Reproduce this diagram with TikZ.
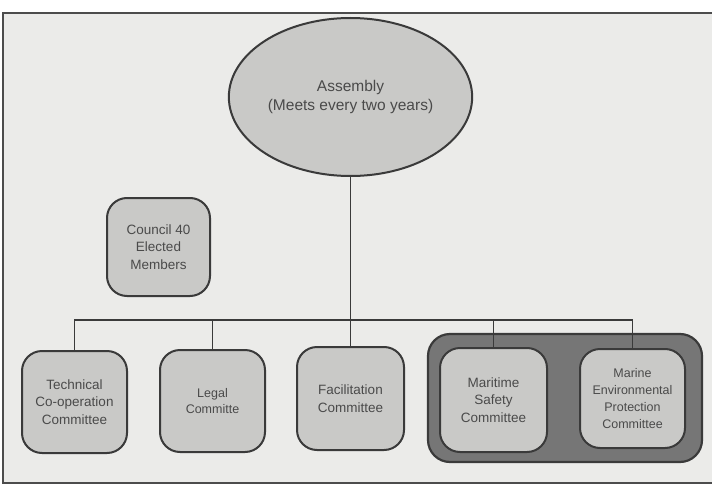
\documentclass[tikz,border=0pt]{standalone}
\usepackage{fontspec}
\setmainfont{Liberation Sans}
\usetikzlibrary{shapes.geometric}
\definecolor{bgc}{HTML}{EBEBE9}
\definecolor{boxc}{HTML}{C9C9C7}
\definecolor{edgec}{HTML}{3A3A3A}
\definecolor{txtc}{HTML}{4A4A4A}
\definecolor{grpc}{HTML}{767676}
\begin{document}
\begin{tikzpicture}[x=1pt,y=-1pt,
  orgbox/.style={draw=edgec, line width=2pt, fill=boxc, rounded corners=20pt,
    text=txtc, align=center, inner sep=2pt,
    font=\fontsize{13.5}{17.5}\selectfont},
  grpbox/.style={draw=edgec, line width=2.2pt, fill=grpc, rounded corners=22pt},
  link/.style={draw=edgec, line width=1.6pt},
  framel/.style={draw=black!70, line width=1.2pt}]
\useasboundingbox (0,0) rectangle (712,487);
\fill[white] (0,0) rectangle (712,487);
\fill[bgc] (3,13) rectangle (712,483);
\draw[framel] (712,13) -- (3,13) -- (3,483) -- (712,483);

\node[grpbox, minimum width=274pt, minimum height=128pt] (grp) at (565,398) {};

\node[draw=edgec, line width=2pt, fill=boxc, ellipse, minimum width=235pt, minimum height=158pt,
  text=txtc, align=center, font=\fontsize{15.5}{19}\selectfont] (asm) at (350.5,97)
  {Assembly\\(Meets every two years)};

\node[orgbox, minimum width=103pt, minimum height=98pt] (council) at (158.5,247)
  {Council 40\\Elected\\Members};

\node[orgbox, minimum width=105pt, minimum height=102pt] (tech) at (74.5,402)
  {Technical\\Co-operation\\Committee};
\node[orgbox, minimum width=105pt, minimum height=102pt, font=\fontsize{12.5}{16}\selectfont] (legal) at (212.5,401)
  {Legal\\Committe};
\node[orgbox, minimum width=107pt, minimum height=103pt] (fac) at (350.5,398.5)
  {Facilitation\\Committee};
\node[orgbox, minimum width=107pt, minimum height=104pt] (msc) at (493.5,400)
  {Maritime\\Safety\\Committee};
\node[orgbox, minimum width=105pt, minimum height=99pt, font=\fontsize{12.5}{17}\selectfont] (mepc) at (632.5,398.5)
  {Marine\\Environmental\\Protection\\Committee};

\coordinate (bar) at (350.5,320);
\draw[link] (asm.south) -- (fac.north);
\draw[link] (tech.north) |- (bar) -| (mepc.north);
\draw[link] (legal.north) -- (legal.north |- bar);
\draw[link] (msc.north) -- (msc.north |- bar);
\end{tikzpicture}
\end{document}
